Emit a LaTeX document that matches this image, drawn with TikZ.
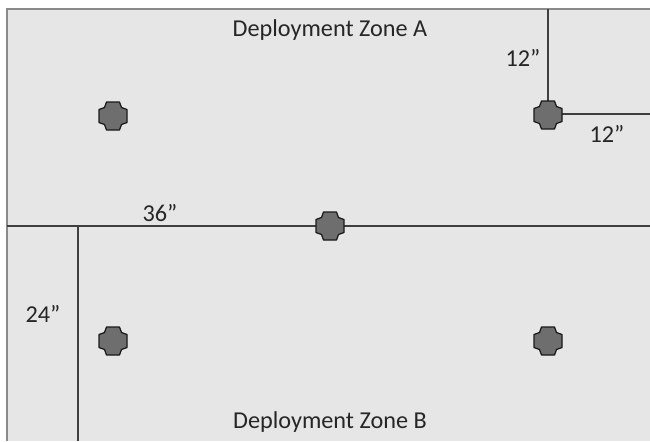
\documentclass[tikz,border=0pt]{standalone}
\usepackage{fontspec}
\setmainfont{Carlito}
\usepackage{tikz}
\usetikzlibrary{calc,positioning}

\tikzset{
  field/.style={fill=fieldgray, draw=none},
  edgeline/.style={draw=framegray, line width=1.1pt},
  zoneline/.style={draw=linegray, line width=0.75pt},
  lbl/.style={font=\fontsize{13.8}{16}\selectfont, text=black!85, inner sep=0pt},
  objective/.pic={
    \draw[fill=objgray, draw=black!90, line width=0.7pt, line join=round]
      (6.5,14) -- (-6.5,14) -- (-8.5,8.5) -- (-14,6.5) -- (-14,-6.5) -- (-8.5,-8.5)
      -- (-6.5,-14) -- (6.5,-14) -- (8.5,-8.5) -- (14,-6.5) -- (14,6.5) -- (8.5,8.5) -- cycle;
  }
}
\definecolor{fieldgray}{HTML}{E6E6E6}
\definecolor{framegray}{HTML}{8A8A8A}
\definecolor{linegray}{HTML}{3F3F3F}
\definecolor{objgray}{HTML}{6E6E6E}

\begin{document}
\begin{tikzpicture}[x=0.02cm, y=-0.02cm]
		\useasboundingbox (0,0) rectangle (650,441);
		\fill[white] (0,0) rectangle (650,441);
		% table
		\fill[field] (7,9) rectangle (650,441);
		\draw[edgeline] (7,441) -- (7,9) -- (650,9);
		\coordinate (TL) at (7,226);
		\coordinate (TR) at (650,226);
		\coordinate (BL) at (78,226);
		\coordinate (BB) at (78,441);
		\coordinate (CT) at (548,9);
		\coordinate (CR) at (650,114);
		% objectives
		\coordinate (objA) at (113,116);
		\coordinate (objC) at (548,115);
		\coordinate (objM) at (330,226);
		\coordinate (objB) at (113,341);
		\coordinate (objD) at (548,341);
		\draw[zoneline] (TL) -- (TR);
		\draw[zoneline] (BL) -- (BB);
		\draw[zoneline] (CT) -- (objC);
		\draw[zoneline] (objC |- CR) -- (CR);
		\foreach \o in {objA,objC,objM,objB,objD}
			\pic at (\o) {objective};
		% labels
		\node[lbl] (zoneA) at (330,30) {Deployment Zone A};
		\node[lbl] (zoneB) at (330,422) {Deployment Zone B};
		\node[lbl] (d12v) at (523,58) {12”};
		\node[lbl] (d12h) at (607,134) {12”};
		\node[lbl] (d36) at (160,213) {36”};
		\node[lbl] (d24) at (43,314) {24”};
	\end{tikzpicture}
\end{document}
